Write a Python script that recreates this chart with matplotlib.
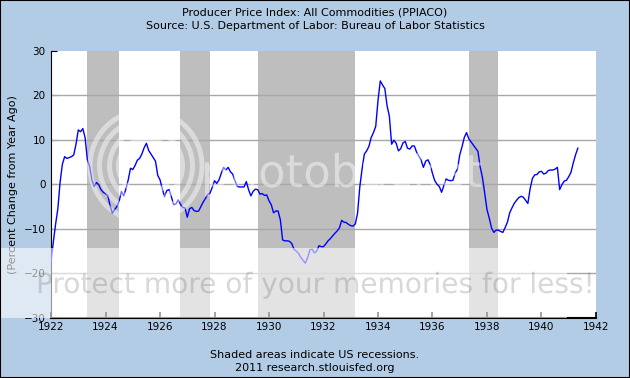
import numpy as np
import matplotlib.pyplot as plt
from matplotlib.patches import Rectangle, PathPatch, Circle
from matplotlib.textpath import TextPath
from matplotlib.font_manager import FontProperties
from matplotlib.transforms import IdentityTransform

# Datos: variacion anual del PPI (%), mensual desde ene-1922
ppi_1922 = [-17.5, -13.0, -9.0, -5.5, 0.5, 4.5, 6.2, 5.8, 6.0, 6.2, 6.6, 9.0]
ppi_1923 = [12.2, 11.8, 12.5, 10.5, 5.5, 4.0, 1.0, -0.5, 0.4, -0.1, -1.2, -1.8]
ppi_1924 = [-2.1, -2.5, -4.8, -6.5, -5.7, -5.0, -3.8, -1.6, -2.6, -1.0, 1.0, 3.6]
ppi_1925 = [3.3, 4.2, 5.4, 5.8, 6.8, 8.2, 9.2, 7.6, 6.8, 6.0, 5.2, 2.0]
ppi_1926 = [1.0, -1.0, -2.8, -1.4, -1.2, -2.8, -4.6, -4.4, -3.5, -4.5, -5.2, -5.3]
ppi_1927 = [-7.4, -5.5, -5.2, -5.9, -6.1, -6.0, -5.0, -4.0, -3.2, -2.3, -2.0, -0.7]
ppi_1928 = [0.8, 0.2, 1.0, 2.5, 3.8, 3.2, 3.8, 2.8, 2.3, 0.8, -0.5, -0.6]
ppi_1929 = [-0.6, -0.6, 0.6, -1.2, -2.6, -1.6, -1.1, -1.2, -2.2, -2.1, -2.5, -2.4]
ppi_1930 = [-3.7, -4.6, -6.4, -6.0, -6.0, -8.0, -12.5, -12.7, -12.7, -12.8, -13.3, -14.6]
ppi_1931 = [-15.0, -15.5, -16.4, -17.1, -17.7, -16.5, -14.7, -14.6, -15.4, -15.0, -13.8, -14.0]
ppi_1932 = [-14.0, -13.4, -12.7, -12.2, -11.6, -11.0, -10.5, -9.8, -8.1, -8.5, -8.6, -9.0]
ppi_1933 = [-9.3, -9.4, -8.9, -6.5, -0.5, 3.5, 6.8, 7.5, 8.5, 10.5, 11.6, 13.0]
ppi_1934 = [18.8, 23.2, 22.3, 21.5, 17.6, 15.3, 9.0, 9.9, 9.2, 7.5, 8.0, 9.3]
ppi_1935 = [9.6, 8.1, 7.9, 8.6, 8.6, 7.2, 6.3, 5.4, 3.8, 5.2, 5.5, 4.4]
ppi_1936 = [2.4, 0.8, 0.0, -0.5, -1.8, -0.3, 1.2, 0.9, 0.8, 0.9, 2.5, 3.4]
ppi_1937 = [6.6, 8.4, 10.5, 11.6, 10.2, 9.5, 8.8, 8.1, 7.4, 3.9, 1.5, -2.0]
ppi_1938 = [-5.7, -7.6, -9.8, -10.8, -10.3, -10.3, -10.6, -10.8, -9.7, -8.5, -6.4, -5.3]
ppi_1939 = [-4.3, -3.6, -3.0, -2.7, -2.9, -3.6, -4.3, -1.0, 1.3, 2.1, 2.2, 2.8]
ppi_1940 = [2.9, 2.3, 2.5, 3.1, 3.2, 3.2, 3.4, 3.8, -1.2, -0.1, 0.7, 0.9]
ppi_1941 = [1.7, 2.7, 4.8, 6.6, 8.1]

# Recesiones (inicio, fin) en anios decimales
recesiones = [(1923 + 4/12, 1924 + 6/12), (1926 + 9/12, 1927 + 10/12),
              (1929 + 7/12, 1933 + 2/12), (1937 + 4/12, 1938 + 5/12)]

anios_x = list(range(1922, 1943, 2))
valores_y = list(range(-30, 31, 10))

ppi = np.array(ppi_1922 + ppi_1923 + ppi_1924 + ppi_1925 + ppi_1926 + ppi_1927
               + ppi_1928 + ppi_1929 + ppi_1930 + ppi_1931 + ppi_1932 + ppi_1933
               + ppi_1934 + ppi_1935 + ppi_1936 + ppi_1937 + ppi_1938 + ppi_1939
               + ppi_1940 + ppi_1941)
t = 1922 + np.arange(len(ppi)) / 12

AZUL_FONDO = '#B3CCE5'
ALTO = 378   # alto de la imagen en pixeles

fig = plt.figure(figsize=(6.3, 3.78), dpi=100, facecolor=AZUL_FONDO)
ax = fig.add_axes([0.081, 0.159, 0.865, 0.707])
ax.set_facecolor('white')

# Bandas de recesion
for ini, fin in recesiones:
    ax.axvspan(ini, fin, color='#BEBEBE', lw=0, zorder=1)

# Rejilla horizontal
for v in valores_y[1:-1]:
    ax.axhline(v, color='#A8A8A8', lw=1, zorder=2)

ax.plot(t, ppi, color='#0000FF', lw=1, zorder=3)

ax.set_xlim(1922, 1942)
ax.set_ylim(-30, 30)
ax.set_xticks(anios_x)
ax.set_yticks(valores_y)
ax.tick_params(axis='x', direction='in', length=4, color='black', width=1.2,
               labelsize=7.5, pad=3)
ax.tick_params(axis='y', direction='in', length=4, color='black', labelsize=7.5, pad=4)

for lado in ['top', 'right']:
    ax.spines[lado].set_visible(False)
ax.spines['left'].set_color('black')
ax.spines['bottom'].set_color('black')
ax.spines['bottom'].set_linewidth(1.5)

ax.set_ylabel('(Percent Change from Year Ago)', fontsize=8, labelpad=4)

fig.text(0.5, 0.968, 'Producer Price Index: All Commodities (PPIACO)',
         ha='center', va='center', fontsize=8)
fig.text(0.5, 0.932, 'Source: U.S. Department of Labor: Bureau of Labor Statistics',
         ha='center', va='center', fontsize=8)
fig.text(0.5, 0.061, 'Shaded areas indicate US recessions.',
         ha='center', va='center', fontsize=8)
fig.text(0.5, 0.026, '2011 research.stlouisfed.org',
         ha='center', va='center', fontsize=8)

# --- Marca de agua de la imagen original (en pixeles) ---
px = IdentityTransform()
fuente = FontProperties(family='DejaVu Sans')

# logo: anillos y palabra en blanco translucido
for r in [56, 46.5, 36.5, 27.5]:
    fig.patches.append(Circle((146, ALTO - 166), r, transform=px, fill=False,
                              edgecolor='white', alpha=0.45, lw=3.6, zorder=5))
logo = TextPath((201, ALTO - 187), 'photobucket', size=45, prop=fuente)
fig.patches.append(PathPatch(logo, transform=px, facecolor='white',
                             edgecolor='none', alpha=0.45, zorder=5))

# franja inferior aclarada con texto gris
x0, x1, y0, y1 = 0, 567, ALTO - 318, ALTO - 248
fig.patches.append(Rectangle((x0, y0), x1 - x0, y1 - y0, transform=px,
                             facecolor='white', edgecolor='none', alpha=0.58, zorder=6))
letras = TextPath((36, ALTO - 293), 'Protect more of your memories for less!',
                  size=28, prop=fuente)
fig.patches.append(PathPatch(letras, transform=px, facecolor='#505050',
                             edgecolor='none', alpha=0.22, zorder=7))

# Marco de la figura
fig.patches.append(Rectangle((0, 0), 1, 1, transform=fig.transFigure,
                             fill=False, edgecolor='black', lw=1.5, zorder=10))

plt.savefig('out.png', dpi=100, facecolor=AZUL_FONDO)
